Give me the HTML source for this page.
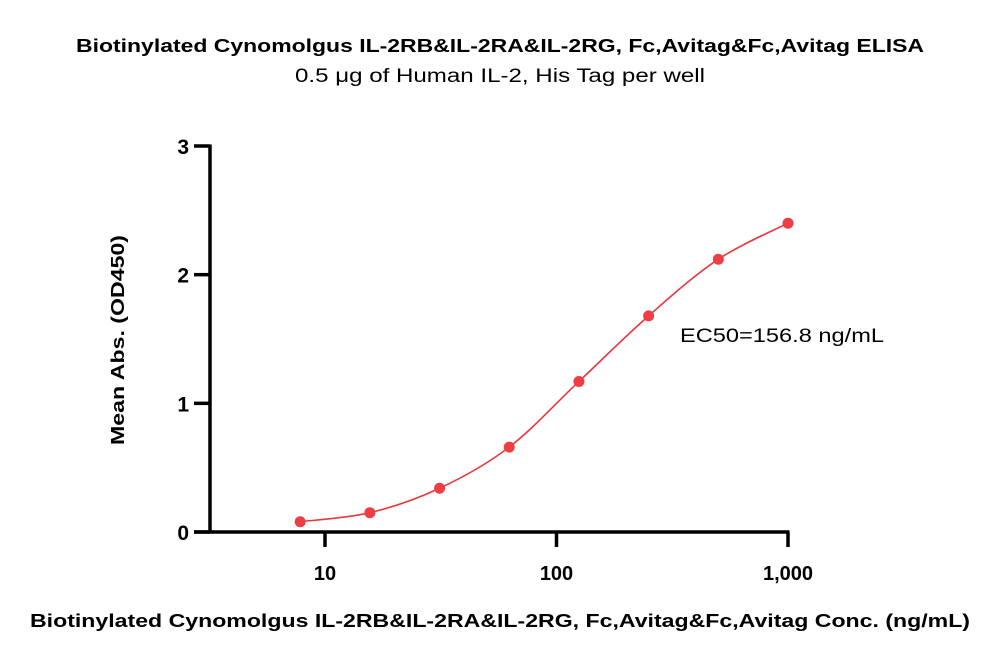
<!DOCTYPE html>
<html><head><meta charset="utf-8"><style>
body{margin:0;background:#fff;}
svg{display:block;font-family:"Liberation Sans",sans-serif;}
</style></head><body>
<svg id="chart" width="1000" height="663" viewBox="0 0 1000 663">
<text x="500" y="52" text-anchor="middle" font-size="18" font-weight="bold" textLength="848" lengthAdjust="spacingAndGlyphs">Biotinylated Cynomolgus IL-2RB&amp;IL-2RA&amp;IL-2RG, Fc,Avitag&amp;Fc,Avitag ELISA</text>
<text x="500" y="82" text-anchor="middle" font-size="19" textLength="410" lengthAdjust="spacingAndGlyphs">0.5 μg of Human IL-2, His Tag per well</text>
<text transform="translate(124,340) rotate(-90)" text-anchor="middle" font-size="18" font-weight="bold" textLength="210" lengthAdjust="spacingAndGlyphs">Mean Abs. (OD450)</text>
<text x="500" y="627" text-anchor="middle" font-size="18" font-weight="bold" textLength="940" lengthAdjust="spacingAndGlyphs">Biotinylated Cynomolgus IL-2RB&amp;IL-2RA&amp;IL-2RG, Fc,Avitag&amp;Fc,Avitag Conc. (ng/mL)</text>
<text x="680" y="342" font-size="19" textLength="204" lengthAdjust="spacingAndGlyphs">EC50=156.8 ng/mL</text>
<g id="axes"></g>
<g id="marks"></g>
</svg>
<script>
const concs=[7.8125,15.625,31.25,62.5,125,250,500,1000];
const absValues=[0.08,0.15,0.34,0.66,1.17,1.68,2.12,2.40];
const yTicks=[0,1,2,3];
const xTicks=[10,100,1000];
const xTickLabels=["10","100","1,000"];
const NS="http://www.w3.org/2000/svg";
const x0=210,y0=532,yUnit=(532-146)/3,decade=(788-325)/2;
const xs=v=>325+Math.log10(v/10)*decade;
const ys=v=>y0-v*yUnit;
function mk(tag,attrs,parent){const e=document.createElementNS(NS,tag);for(const k in attrs)e.setAttribute(k,attrs[k]);parent.appendChild(e);return e;}
const axes=document.getElementById('axes'),marks=document.getElementById('marks');
let e=mk('line',{x1:x0,y1:ys(3)-1.5,x2:x0,y2:y0+1.5,stroke:'#000','stroke-width':3.5},axes);


e=mk('line',{x1:194,y1:y0,x2:xs(1000)+1.5,y2:y0,stroke:'#000','stroke-width':3.5},axes);


yTicks.forEach(t=>{
 let l=mk('line',{x1:194,y1:ys(t),x2:x0,y2:ys(t),stroke:'#000','stroke-width':3.5},axes);
 
 
 let tx=mk('text',{x:189,y:ys(t)+8,'text-anchor':'end','font-size':21,'font-weight':'bold'},axes);
 tx.textContent=t;
 
 
});
xTicks.forEach((t,i)=>{
 let l=mk('line',{x1:xs(t),y1:y0,x2:xs(t),y2:547,stroke:'#000','stroke-width':3.5},axes);
 
 
 let tx=mk('text',{x:xs(t),y:580,'text-anchor':'middle','font-size':20,'font-weight':'bold'},axes);
 tx.textContent=xTickLabels[i];
 
 
});
const P=concs.map((c,i)=>[xs(c),ys(absValues[i])]);
let d='M'+P[0][0]+','+P[0][1];
for(let i=0;i<P.length-1;i++){
 const p0=P[i-1]||P[i],p1=P[i],p2=P[i+1],p3=P[i+2]||P[i+1];
 const c1=[p1[0]+(p2[0]-p0[0])/6,p1[1]+(p2[1]-p0[1])/6];
 const c2=[p2[0]-(p3[0]-p1[0])/6,p2[1]-(p3[1]-p1[1])/6];
 d+=` C${c1[0]},${c1[1]} ${c2[0]},${c2[1]} ${p2[0]},${p2[1]}`;
}
e=mk('path',{d:d,fill:'none',stroke:'#e8383d','stroke-width':1.6},marks);


P.forEach(p=>{
 let c=mk('circle',{cx:p[0],cy:p[1],r:5.5,fill:'#ee3e44'},marks);
 
 
});
</script>
</body></html>
